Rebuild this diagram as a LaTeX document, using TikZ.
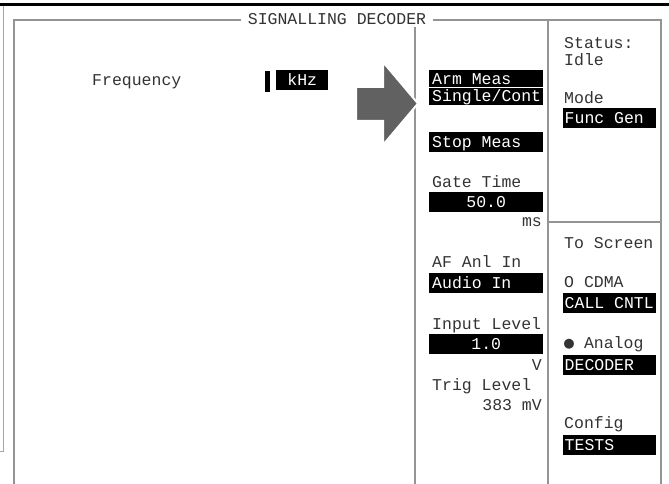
\documentclass[tikz,border=0pt]{standalone}
\usepackage{fontspec}
\setmonofont{Liberation Mono}
\newfontfamily\dotfont{DejaVu Sans Mono}
\usetikzlibrary{positioning}

\begin{document}
\begin{tikzpicture}[x=1pt, y=-1pt,
  frame/.style={draw=black!42, line width=2.5pt},
  txt/.style={font=\fontsize{16.5}{17}\ttfamily, text=black!80, inner sep=0pt,
    text height=12pt, text depth=1pt, anchor=west},
  field/.style={fill=black, text=white, font=\fontsize{16.5}{17}\ttfamily,
    inner xsep=3pt, inner ysep=0pt, text height=12pt, text depth=1pt,
    minimum height=20pt, anchor=north west, align=left,
    execute at begin node={\spaceskip=9.9pt\relax}},
  lfield/.style={field, text width=108pt},
  rfield/.style={field, inner xsep=1.5pt, text width=90pt},
]
  \useasboundingbox (0,0) rectangle (669,484);

  % screen frame
  \draw[black, line width=2.5pt] (0,4.5) -- (669,4.5);
  \draw[black!35, line width=1pt] (3.5,6) -- (3.5,451) -- (0,451);
  \draw[frame] (14,484) -- (14,20) -- (661,20) -- (661,484);
  \draw[frame] (415,27) -- (415,484);
  \draw[frame] (548,20) -- (548,484);
  \draw[frame] (548,222) -- (661,222);
  \node[txt, anchor=center, fill=white, inner xsep=7pt, inner ysep=2pt] (title) at (337,19) {SIGNALLING DECODER};

  % measurement area
  \node[txt] (freq) at (92,80) {Frequency};
  \node[fill=black, minimum width=5pt, minimum height=21pt, inner sep=0pt, anchor=north west] (cursor) at (265,71) {};
  \node[field, text width=46pt, align=center] (khz) at (276,70) {kHz};

  % middle column
  \node[lfield, minimum height=17pt] (arm) at (429,70) {Arm Meas};
  \node[lfield, minimum height=17pt, below=0pt of arm] (single) {\underline{Single}/Cont};
  \node[lfield] (stop) at (429,132) {Stop Meas};
  \node[txt] (gate) at (432,182) {Gate Time};
  \node[lfield, align=center] (gateval) at (429,192) {50.0};
  \node[txt, anchor=east] (gateunit) at (542,221) {ms};
  \node[txt] (afin) at (432,262) {AF Anl In};
  \node[lfield] (audio) at (429,273) {Audio In};
  \node[txt] (inlev) at (432,324) {Input Level};
  \node[lfield, align=center] (inval) at (429,334) {1.0};
  \node[txt, anchor=east] (inunit) at (542,365) {V};
  \node[txt] (trig) at (432,385) {Trig Level};
  \node[txt, anchor=east] (trigval) at (542,405) {383 mV};

  % right column
  \node[txt] (status) at (564,43) {Status:};
  \node[txt] (idle) at (564,60) {Idle};
  \node[txt] (mode) at (564,98) {Mode};
  \node[rfield] (func) at (563,108) {Func Gen};
  \node[txt] (screen) at (564,243) {To Screen};
  \node[txt] (cdma) at (564,282) {O CDMA};
  \node[rfield] (call) at (563,293) {CALL CNTL};
  \node[txt] (analog) at (564,343) {{\dotfont ●} Analog};
  \node[rfield] (decoder) at (563,355) {DECODER};
  \node[txt] (config) at (564,423) {Config};
  \node[rfield] (tests) at (563,435) {TESTS};

  % pointer
  \filldraw[fill=black!62, draw=white, line width=2pt]
    (356,87) -- (383,87) -- (383,62) -- (418,103.5) -- (383,145) -- (383,121) -- (356,121) -- cycle;
\end{tikzpicture}
\end{document}
